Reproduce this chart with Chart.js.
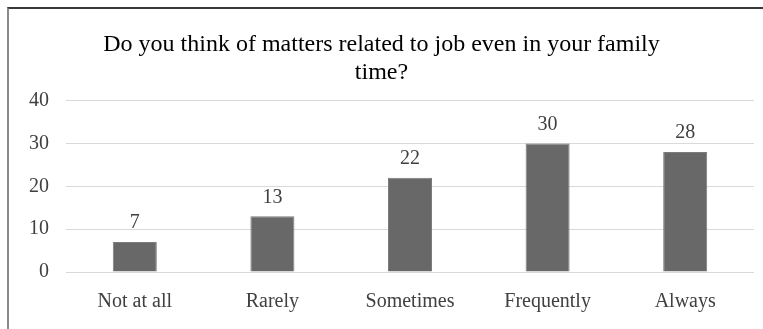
<!DOCTYPE html>
<html>
<head>
<meta charset="utf-8">
<script src="https://cdn.jsdelivr.net/npm/chart.js@4"></script>
<style>
  html, body { margin: 0; padding: 0; background: #fff; }
  #frame {
    position: absolute; left: 7px; top: 7px;
    width: 754px; height: 320px;
    border-left: 2px solid #8a8a8a;
    border-top: 2px solid #3a3a3a;
  }
  #chart { display: block; }
</style>
</head>
<body>
<div id="frame"><canvas id="chart" width="754" height="320"></canvas></div>
<script>
// survey answers
const categories = ['Not at all', 'Rarely', 'Sometimes', 'Frequently', 'Always'];
const counts = [7, 13, 22, 30, 28];
const yTicks = [0, 10, 20, 30, 40];

const serif = '"Liberation Serif", "Times New Roman", serif';

// value labels above each bar
const barLabels = {
    id: 'barLabels',
    afterDatasetsDraw(chart) {
        const ctx = chart.ctx;
        const meta = chart.getDatasetMeta(0);
        ctx.save();
        ctx.font = '20px ' + serif;
        ctx.fillStyle = '#404040';
        ctx.textAlign = 'center';
        ctx.textBaseline = 'middle';
        meta.data.forEach((bar, i) => {
            ctx.fillText(String(counts[i]), bar.x, bar.y - 19);
        });
        ctx.restore();
    }
};

const ctx = document.getElementById('chart').getContext('2d');
new Chart(ctx, {
    type: 'bar',
    data: {
        labels: categories,
        datasets: [{
            data: counts,
            backgroundColor: '#686868',
            borderColor: '#7c7c7c',
            borderWidth: 1,
            barPercentage: 0.32,
            categoryPercentage: 1
        }]
    },
    options: {
        responsive: false,
        animation: false,
        layout: { padding: { left: 0, right: 9, top: 10, bottom: 0 } },
        plugins: {
            legend: { display: false },
            tooltip: { enabled: false },
            title: {
                display: true,
                text: ['Do you think of matters related to job even in your family', 'time?'],
                color: '#000',
                font: { family: serif, size: 24, weight: 'normal', lineHeight: 1.2 },
                padding: { top: 11, bottom: 13 }
            }
        },
        scales: {
            x: {
                afterFit: (scale) => { scale.height = 57; },
                grid: { display: false, drawTicks: false },
                border: { display: false },
                ticks: { color: '#404040', font: { family: serif, size: 20 }, padding: 18 }
            },
            y: {
                min: 0,
                max: 40,
                afterBuildTicks: (scale) => { scale.ticks = yTicks.map(v => ({ value: v })); },
                afterFit: (scale) => { scale.width = 57; },
                grid: { color: '#d9d9d9', drawTicks: false },
                border: { display: false },
                ticks: { color: '#404040', font: { family: serif, size: 20 }, padding: 17 }
            }
        }
    },
    plugins: [barLabels]
});
</script>
</body>
</html>
